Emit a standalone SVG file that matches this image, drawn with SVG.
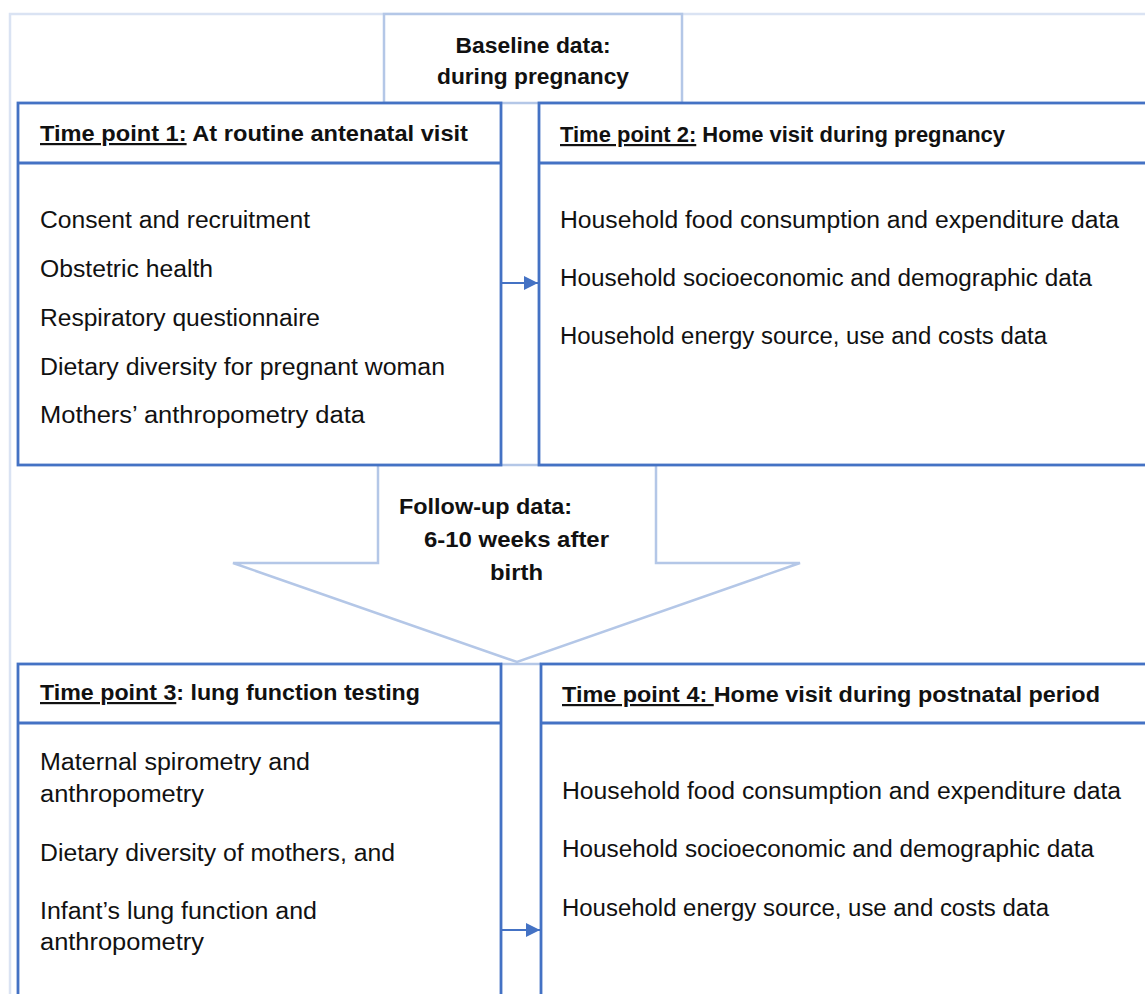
<svg xmlns="http://www.w3.org/2000/svg" width="1145" height="994" viewBox="0 0 1145 994">
<style>
  .frame { fill: none; stroke: #DAE3F3; stroke-width: 2.5; }
  .light { fill: #FFFFFF; stroke: #B4C7E7; stroke-width: 2.5; }
  .box { fill: #FFFFFF; stroke: #4472C4; stroke-width: 2.8; }
  .div { stroke: #4472C4; stroke-width: 2.8; }
  .conn { stroke: #4472C4; stroke-width: 1.8; fill: none; }
  .t { font-family: "Liberation Sans", Arial, sans-serif; font-size: 23px; fill: #111111; }
  .h { font-family: "Liberation Sans", Arial, sans-serif; font-size: 22px; font-weight: bold; fill: #111111; }
  .u { text-decoration: underline; }
</style>
<defs>
  <marker id="arr" viewBox="0 0 10 10" refX="10" refY="5" markerWidth="16" markerHeight="14" markerUnits="userSpaceOnUse" orient="auto">
    <path d="M0,0 L10,5 L0,10 Z" fill="#4472C4"/>
  </marker>
</defs>
<rect width="1145" height="994" fill="#FFFFFF"/>

<!-- outer frame -->
<path class="frame" d="M10,1000 V14 H1150"/>

<!-- baseline label box -->
<g id="baseline">
  <rect class="light" x="384" y="14" width="298" height="89"/>
  <text class="h" x="533" y="53" text-anchor="middle" textLength="155" lengthAdjust="spacingAndGlyphs">Baseline data:</text>
  <text class="h" x="533" y="84" text-anchor="middle" textLength="192" lengthAdjust="spacingAndGlyphs">during pregnancy</text>
</g>

<!-- follow-up block arrow -->
<g id="followup">
  <polygon class="light" points="378,465 656,465 656,563 800,563 517,662 233,563 378,563"/>
  <text class="h" x="399" y="514" textLength="173" lengthAdjust="spacingAndGlyphs">Follow-up data:</text>
  <text class="h" x="424" y="547" textLength="185" lengthAdjust="spacingAndGlyphs">6-10 weeks after</text>
  <text class="h" x="490" y="580" textLength="53" lengthAdjust="spacingAndGlyphs">birth</text>
</g>
<line x1="501" y1="664" x2="541" y2="664" stroke="#B4C7E7" stroke-width="2.5"/>

<!-- Time point 1 -->
<g id="tp1">
  <rect class="box" x="18" y="103" width="483" height="362"/>
  <line class="div" x1="18" y1="163" x2="501" y2="163"/>
  <text class="h" x="40" y="141" textLength="428" lengthAdjust="spacingAndGlyphs"><tspan class="u">Time point 1:</tspan> At routine antenatal visit</text>
  <text class="t" x="40" y="228" textLength="270" lengthAdjust="spacingAndGlyphs">Consent and recruitment</text>
  <text class="t" x="40" y="277" textLength="173" lengthAdjust="spacingAndGlyphs">Obstetric health</text>
  <text class="t" x="40" y="326" textLength="280" lengthAdjust="spacingAndGlyphs">Respiratory questionnaire</text>
  <text class="t" x="40" y="375" textLength="405" lengthAdjust="spacingAndGlyphs">Dietary diversity for pregnant woman</text>
  <text class="t" x="40" y="423" textLength="325" lengthAdjust="spacingAndGlyphs">Mothers’ anthropometry data</text>
</g>

<!-- Time point 2 -->
<g id="tp2">
  <rect class="box" x="539" y="103" width="620" height="362"/>
  <line class="div" x1="539" y1="163" x2="1150" y2="163"/>
  <text class="h" x="560" y="142" textLength="445" lengthAdjust="spacingAndGlyphs"><tspan class="u">Time point 2:</tspan> Home visit during pregnancy</text>
  <text class="t" x="560" y="228" textLength="559" lengthAdjust="spacingAndGlyphs">Household food consumption and expenditure data</text>
  <text class="t" x="560" y="286" textLength="532" lengthAdjust="spacingAndGlyphs">Household socioeconomic and demographic data</text>
  <text class="t" x="560" y="344" textLength="487" lengthAdjust="spacingAndGlyphs">Household energy source, use and costs data</text>
</g>

<!-- Time point 3 -->
<g id="tp3">
  <rect class="box" x="18" y="664" width="483" height="350"/>
  <line class="div" x1="18" y1="723" x2="501" y2="723"/>
  <text class="h" x="40" y="700" textLength="380" lengthAdjust="spacingAndGlyphs"><tspan class="u">Time point 3</tspan>: lung function testing</text>
  <text class="t" x="40" y="770" textLength="270" lengthAdjust="spacingAndGlyphs">Maternal spirometry and</text>
  <text class="t" x="40" y="802" textLength="164" lengthAdjust="spacingAndGlyphs">anthropometry</text>
  <text class="t" x="40" y="861" textLength="355" lengthAdjust="spacingAndGlyphs">Dietary diversity of mothers, and</text>
  <text class="t" x="40" y="919" textLength="277" lengthAdjust="spacingAndGlyphs">Infant’s lung function and</text>
  <text class="t" x="40" y="950" textLength="164" lengthAdjust="spacingAndGlyphs">anthropometry</text>
</g>

<!-- Time point 4 -->
<g id="tp4">
  <rect class="box" x="541" y="664" width="620" height="350"/>
  <line class="div" x1="541" y1="723" x2="1150" y2="723"/>
  <text class="h" x="562" y="702" textLength="538" lengthAdjust="spacingAndGlyphs"><tspan class="u">Time point 4: </tspan>Home visit during postnatal period</text>
  <text class="t" x="562" y="799" textLength="559" lengthAdjust="spacingAndGlyphs">Household food consumption and expenditure data</text>
  <text class="t" x="562" y="857" textLength="532" lengthAdjust="spacingAndGlyphs">Household socioeconomic and demographic data</text>
  <text class="t" x="562" y="916" textLength="487" lengthAdjust="spacingAndGlyphs">Household energy source, use and costs data</text>
</g>

<!-- connectors -->
<g id="connectors">
  <line class="conn" x1="501" y1="283" x2="538" y2="283" marker-end="url(#arr)"/>
  <line class="conn" x1="501" y1="930" x2="540" y2="930" marker-end="url(#arr)"/>
</g>
</svg>
